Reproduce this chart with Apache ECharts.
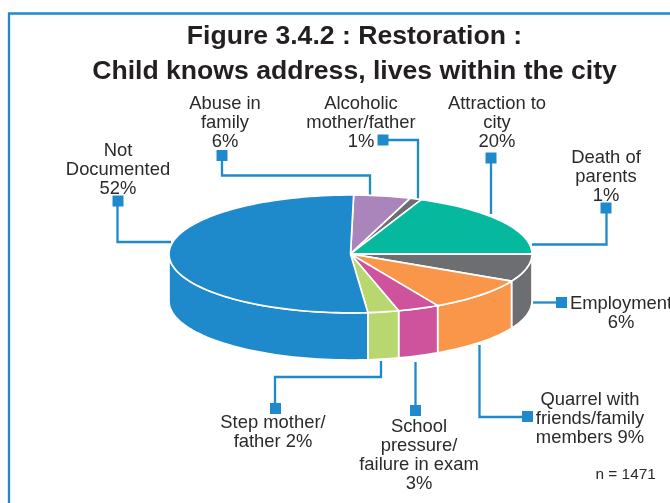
<!DOCTYPE html>
<html><head><meta charset="utf-8">
<style>html,body{margin:0;padding:0;background:#fff}#c{width:670px;height:503px}</style>
<script src="https://cdn.jsdelivr.net/npm/echarts@6/dist/echarts.min.js"></script>
</head><body><div id="c"></div>
<script>
// ---- data ----
const categories = ['Abuse in family','Alcoholic mother/father','Attraction to city','Death of parents','Employment','Quarrel with friends/family members','School pressure/failure in exam','Step mother/father','Not Documented'];
const labelPercents = [6,1,20,1,6,9,3,2,52];
// share of the pie each slice occupies as drawn (estimated from slice boundaries)
const drawnShares = [5.05,1.05,18.6,0.1,7.55,9.4,3.7,2.75,51.8];
const sliceColors = ['#A985BC','#6D6E71','#06B89D','#FFFFFF','#6D6E71','#F9964A','#CE539C','#B8D76E','#1E8ACB'];
const labelLines = [
  ['Abuse in','family','6%'],['Alcoholic','mother/father','1%'],['Attraction to','city','20%'],
  ['Death of','parents','1%'],['Employment','6%'],['Quarrel with','friends/family','members 9%'],
  ['School','pressure/','failure in exam','3%'],['Step mother/','father 2%'],['Not','Documented','52%']];
const titleLines = ['Figure 3.4.2 : Restoration :','Child knows address, lives within the city'];
const noteText = 'n = 1471';

// ---- layout ----
const BLUE = '#1E8ACB', INK = '#2B2A2B', FONT = '"Liberation Sans",Arial,sans-serif';
const START_DEG = 89;          // where the first slice begins, clockwise from there
const DEPTH = 0.8;             // wall height, in y-axis units (1 = ellipse semi-axis)
const labelPos = [[225,104],[361,104],[497,104],[606,158],[621,304],[590,400],[419,427],[273,423],[118,151]];
const leaders = [
  {sq:[222,155.5], path:[[222,155],[222,175.5],[370,175.5],[370,195]]},
  {sq:[383,140], path:[[383,140],[418,140],[418,199]]},
  {sq:[491,158], path:[[491,158],[491,214]]},
  {sq:[606,208], path:[[606.5,208],[606.5,244.5],[532,244.5]]},
  {sq:[561.5,302.5], path:[[533,302.5],[561,302.5]]},
  {sq:[527.5,416.5], path:[[479.5,345],[479.5,417],[528,417]]},
  {sq:[415.5,410.5], path:[[415.5,362],[415.5,410]]},
  {sq:[275.5,408.5], path:[[381,361],[381,377],[275,377],[275,408]]},
  {sq:[118,201], path:[[117.5,201],[117.5,242],[171,242]]}
];

const total = drawnShares.reduce((a,b)=>a+b,0);
const starts = [];
drawnShares.reduce((acc,v,i)=>{starts[i]=acc;return acc+v;},0);
const rad = d => d*Math.PI/180;
const angleAt = s => rad(START_DEG - s/total*360);

function arcPts(a0,a1,dy,api){
  const n = Math.max(2,Math.ceil(Math.abs(a1-a0)/rad(2))), out=[];
  for(let i=0;i<=n;i++){const t=a0+(a1-a0)*i/n; out.push(api.coord([Math.cos(t),Math.sin(t)-dy]));}
  return out;
}
// walls: the parts of each slice's rim facing the viewer (sin<0)
function wallItem(params,api){
  const i=api.value(0), a0=angleAt(api.value(1)), a1=angleAt(api.value(1)+api.value(2));
  const hi=Math.min(a0,-0), lo=Math.max(a1,-Math.PI);
  const kids=[];
  if(hi>lo){
    const top=arcPts(hi,lo,0,api), bot=arcPts(hi,lo,DEPTH,api).reverse();
    kids.push({type:'polygon',shape:{points:top.concat(bot)},style:{fill:sliceColors[i],stroke:'#fff',lineWidth:1.7}});
  }
  return {type:'group',children:kids};
}
function topItem(params,api){
  const i=api.value(0), a0=angleAt(api.value(1)), a1=angleAt(api.value(1)+api.value(2));
  const pts=[api.coord([0,0])].concat(arcPts(a0,a1,0,api));
  return {type:'polygon',shape:{points:pts},style:{fill:sliceColors[i],stroke:'#fff',lineWidth:1.7,lineJoin:'round'}};
}
const rows = drawnShares.map((v,i)=>[i,starts[i],v,categories[i],labelPercents[i]]);
const graphic = [];
graphic.push({type:'rect',shape:{x:9,y:13.5,width:720,height:560},style:{fill:'none',stroke:BLUE,lineWidth:2.3},z:0});
leaders.forEach(l=>{
  graphic.push({type:'polyline',shape:{points:l.path},style:{fill:'none',stroke:BLUE,lineWidth:2.3},z:1});
  graphic.push({type:'rect',shape:{x:l.sq[0]-5.5,y:l.sq[1]-5.5,width:11,height:11},style:{fill:BLUE},z:2});
});
labelLines.forEach((lines,i)=>{
  graphic.push({type:'text',x:labelPos[i][0],y:labelPos[i][1],z:3,
    style:{text:lines.join('\n'),font:'18.4px '+FONT,fill:INK,align:'center',verticalAlign:'middle',lineHeight:19,
      y:(lines.length-1)*19/2}});
});
graphic.push({type:'text',x:595.5,y:474.5,z:3,style:{text:noteText,font:'15.4px '+FONT,fill:INK,align:'left',verticalAlign:'middle'}});

const option = {
  animation:false,
  title:{text:titleLines.join('\n'),left:349.5,top:14,textAlign:'center',
    textStyle:{fontFamily:FONT,fontWeight:'bold',fontSize:26.6,lineHeight:35,color:'#231F20'}},
  grid:{left:169,width:363,top:195,height:118+47},
  xAxis:{type:'value',min:-1,max:1,show:false},
  yAxis:{type:'value',min:-1-DEPTH,max:1,show:false},
  graphic:graphic,
  series:[
    {type:'custom',name:'walls',coordinateSystem:'cartesian2d',renderItem:wallItem,data:rows,
     encode:{x:1,y:2},clip:false,silent:true,z:4},
    {type:'custom',name:'tops',coordinateSystem:'cartesian2d',renderItem:topItem,data:rows,
     encode:{x:1,y:2},clip:false,silent:true,z:5}
  ]
};
echarts.init(document.getElementById('c'),null,{renderer:'canvas'}).setOption(option);
</script></body></html>
